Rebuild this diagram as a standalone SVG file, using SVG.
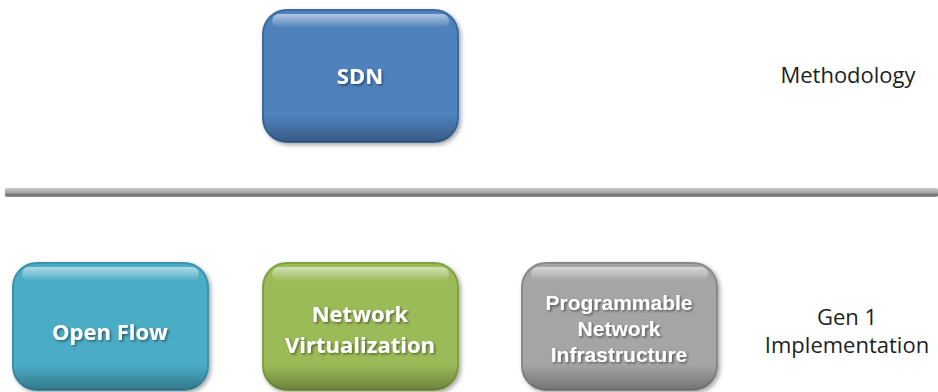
<svg xmlns="http://www.w3.org/2000/svg" width="938" height="392" viewBox="0 0 938 392">
<defs>
<style>
.lbl{font-family:"Open Sans","Liberation Sans",sans-serif;font-weight:bold;fill:#ffffff;text-anchor:middle;filter:url(#ts)}
.lbl3{font-family:"Liberation Sans",sans-serif;font-size:21px}
.side{font-family:"Open Sans","Liberation Sans",sans-serif;fill:#1e1e1e;text-anchor:middle;font-size:22px}
.hl{fill:url(#hl)}
.edge{fill:url(#edge)}
</style>
<filter id="ts" x="-10%" y="-20%" width="130%" height="150%">
<feDropShadow dx="1.5" dy="1.5" stdDeviation="1" flood-color="#000" flood-opacity="0.45"/>
</filter>
<filter id="bs" x="-10%" y="-10%" width="125%" height="125%">
<feDropShadow dx="2" dy="2" stdDeviation="2" flood-color="#000" flood-opacity="0.35"/>
</filter>
<linearGradient id="hl" x1="0" y1="0" x2="0" y2="1">
<stop offset="0" stop-color="#fff" stop-opacity="0.55"/>
<stop offset="1" stop-color="#fff" stop-opacity="0"/>
</linearGradient>
<linearGradient id="edge" x1="0" y1="0" x2="0" y2="1">
<stop offset="0" stop-color="#000" stop-opacity="0"/>
<stop offset="0.8" stop-color="#000" stop-opacity="0"/>
<stop offset="1" stop-color="#000" stop-opacity="0.3"/>
</linearGradient>
<linearGradient id="bar" x1="0" y1="0" x2="0" y2="1">
<stop offset="0" stop-color="#c8c8c8"/>
<stop offset="0.5" stop-color="#a6a6a6"/>
<stop offset="0.8" stop-color="#6e6e6e"/>
<stop offset="1" stop-color="#9a9a9a"/>
</linearGradient>
</defs>

<g id="separator">
<rect x="5" y="188" width="933" height="9" rx="2" fill="url(#bar)"/>
</g>

<g id="sdn">
<rect x="263" y="10" width="195" height="132" rx="24" fill="#4f81bd" stroke="#3d6aa0" stroke-width="2" filter="url(#bs)"/>
<rect x="263" y="10" width="195" height="132" rx="24" class="edge"/>
<rect x="272" y="14" width="177" height="14" rx="7" class="hl"/>
<text class="lbl" x="360" y="84" font-size="22">SDN</text>
</g>

<g id="openflow">
<rect x="13" y="263" width="195" height="127" rx="24" fill="#4bacc6" stroke="#3a92aa" stroke-width="2" filter="url(#bs)"/>
<rect x="13" y="263" width="195" height="127" rx="24" class="edge"/>
<rect x="22" y="267" width="177" height="14" rx="7" class="hl"/>
<text class="lbl" x="110" y="340" font-size="22">Open Flow</text>
</g>

<g id="netvirt">
<rect x="263" y="263" width="195" height="127" rx="24" fill="#9bbb59" stroke="#82a042" stroke-width="2" filter="url(#bs)"/>
<rect x="263" y="263" width="195" height="127" rx="24" class="edge"/>
<rect x="272" y="267" width="177" height="14" rx="7" class="hl"/>
<text class="lbl" x="360" y="322" font-size="22">Network</text>
<text class="lbl" x="360" y="353" font-size="22">Virtualization</text>
</g>

<g id="prognet">
<rect x="522" y="263" width="195" height="127" rx="24" fill="#a5a5a5" stroke="#8a8a8a" stroke-width="2" filter="url(#bs)"/>
<rect x="522" y="263" width="195" height="127" rx="24" class="edge"/>
<rect x="531" y="267" width="177" height="14" rx="7" class="hl"/>
<text class="lbl lbl3" x="619" y="310">Programmable</text>
<text class="lbl lbl3" x="619" y="336">Network</text>
<text class="lbl lbl3" x="619" y="362">Infrastructure</text>
</g>

<g id="methodology">
<text class="side" x="848" y="83">Methodology</text>
</g>

<g id="gen1">
<text class="side" x="847" y="325">Gen 1</text>
<text class="side" x="847" y="353">Implementation</text>
</g>

<g id="connectors"></g>
</svg>
